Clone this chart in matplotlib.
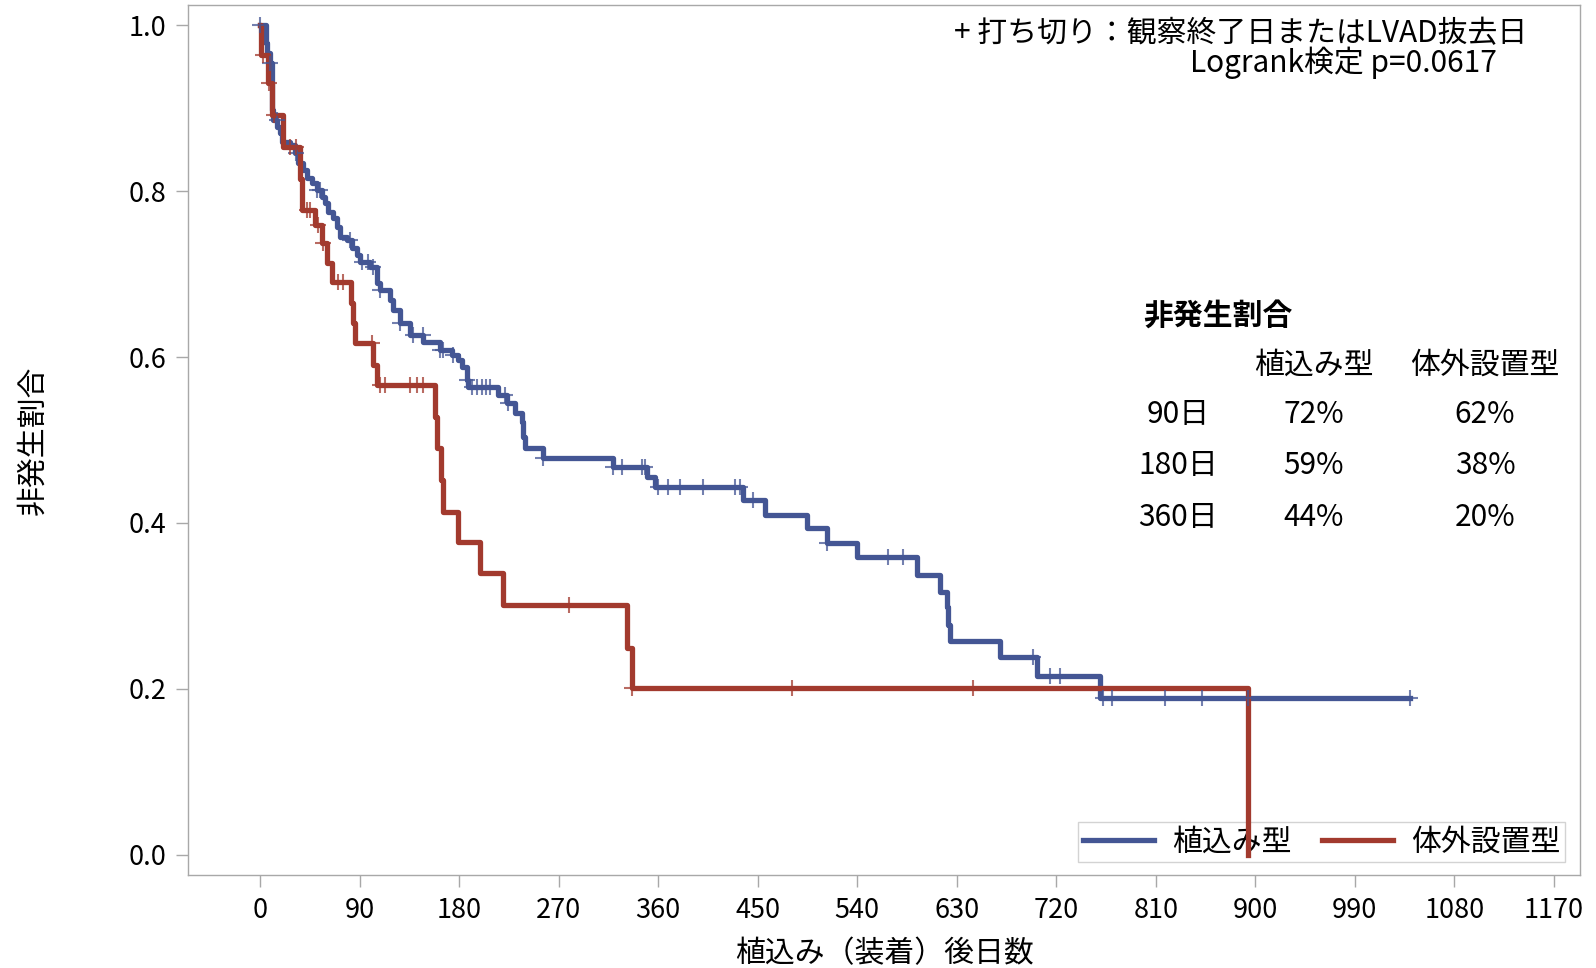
import matplotlib
matplotlib.use('Agg')
import matplotlib.pyplot as plt
import numpy as np

plt.rcParams['font.family'] = ['Noto Sans CJK JP', 'DejaVu Sans']

# 植込み型 : event days and survival after each event
imp_days = [0, 5.5, 6.5, 9, 10.5, 11, 12, 15.4, 18, 20, 27, 31.6, 34.4, 38.9, 42.5, 47, 51.5,
            56, 58.8, 61.5, 66, 69.6, 72.3, 78.7, 83.2, 87.7, 90.4, 99.5, 105.8, 108.5, 117.5,
            120, 126.6, 135.6, 147.4, 162.7, 173.6, 179, 182.6, 187, 188, 215, 223, 230.6, 237,
            237.8, 239.6, 256, 319, 350, 357, 436.7, 456.6, 494.6, 512.7, 539.8, 594, 614.8,
            621, 622, 624, 669, 702.5, 759.5, 1040]
imp_surv = [1.0, 0.978, 0.966, 0.954, 0.925, 0.898, 0.886, 0.877, 0.870, 0.859, 0.855, 0.846,
            0.834, 0.825, 0.816, 0.810, 0.801, 0.793, 0.786, 0.775, 0.767, 0.757, 0.745, 0.741,
            0.731, 0.723, 0.714, 0.708, 0.689, 0.681, 0.669, 0.657, 0.641, 0.627, 0.618, 0.608,
            0.602, 0.596, 0.588, 0.572, 0.564, 0.554, 0.545, 0.533, 0.522, 0.504, 0.490, 0.478,
            0.467, 0.455, 0.443, 0.428, 0.410, 0.394, 0.376, 0.359, 0.337, 0.317, 0.299, 0.277,
            0.258, 0.239, 0.216, 0.189, 0.189]
imp_cens = [0, 9, 15, 33, 51.5, 54, 81, 92, 97.6, 102, 108.5, 126.6, 138, 147, 162.7, 165.5,
            174.5, 187, 191.7, 196, 200.7, 204, 208, 221.5, 224, 256, 319, 327, 345, 348, 360,
            369, 380, 400.5, 429.5, 434, 445.7, 512.7, 568, 581, 699, 714, 723, 762, 770, 818,
            852, 893, 1040]

# 体外設置型
ext_days = [0, 1, 7.5, 10.5, 21, 36.5, 38, 49.7, 56, 60.6, 65, 82, 84, 86, 102, 106, 158, 160,
            164, 165.5, 179, 199, 219.7, 332, 336, 893.3]
ext_surv = [1.0, 0.964, 0.930, 0.892, 0.853, 0.815, 0.777, 0.759, 0.737, 0.713, 0.690, 0.665,
            0.641, 0.617, 0.590, 0.566, 0.528, 0.490, 0.452, 0.413, 0.377, 0.340, 0.301, 0.249,
            0.201, 0.0]
ext_cens = [3, 8, 13, 27, 33, 42.5, 45, 52, 57, 70.5, 75, 101, 108.5, 113, 136, 142, 147.5,
            279, 336.5, 481, 645]

groups = ['植込み型', '体外設置型']
colors = ['#445694', '#A23A2E']

table_rows = ['90日', '180日', '360日']
table_imp = ['72%', '59%', '44%']
table_ext = ['62%', '38%', '20%']

x_ticks = list(range(0, 1171, 90))
y_ticks = [0.0, 0.2, 0.4, 0.6, 0.8, 1.0]

W, H = 1596, 968
fig = plt.figure(figsize=(W / 100, H / 100), dpi=100)
ax = fig.add_axes([188 / W, 1 - 875 / H, (1580 - 188) / W, (875 - 5) / H])


def surv_at(days, surv, t):
    idx = np.searchsorted(days, t, side='right') - 1
    return np.asarray(surv)[idx]


series = [(imp_days, imp_surv, imp_cens), (ext_days, ext_surv, ext_cens)]
for (d, s, c), name, col in zip(series, groups, colors):
    ax.step(d, s, where='post', color=col, lw=3.8, label=name, zorder=3)
    ax.plot(c, surv_at(d, s, c), linestyle='none', marker='+', markersize=12,
            mew=1.5, color=col, alpha=0.75, zorder=4)

ax.set_xlim(-65.1, 1193.5)
ax.set_ylim(-0.0241, 1.0241)
ax.set_xticks(x_ticks)
ax.set_yticks(y_ticks)
ax.set_yticklabels([f'{v:.1f}' for v in y_ticks])

frame_col = '#a8a8a8'
for sp in ax.spines.values():
    sp.set_color(frame_col)
    sp.set_linewidth(1.0)
ax.tick_params(direction='out', length=8.5, width=1, color=frame_col,
               labelsize=19.5, pad=7)

fs = 21.5
fig.text(884 / W, 1 - 954 / H, '植込み（装着）後日数', ha='center', va='center', fontsize=fs)
fig.text(33 / W, 1 - 440 / H, '非発生割合', ha='center', va='center', rotation=90, fontsize=fs)

fig.text(1527 / W, 1 - 34 / H, '+ 打ち切り：観察終了日またはLVAD抜去日', ha='right', va='center', fontsize=fs)
fig.text(1497 / W, 1 - 63 / H, 'Logrank検定 p=0.0617', ha='right', va='center', fontsize=fs)

fig.text(1143 / W, 1 - 316 / H, '非発生割合', ha='left', va='center', fontsize=fs, fontweight='bold')
fig.text(1314 / W, 1 - 365 / H, groups[0], ha='center', va='center', fontsize=fs)
fig.text(1485 / W, 1 - 365 / H, groups[1], ha='center', va='center', fontsize=fs)
for i, (r, a, b) in enumerate(zip(table_rows, table_imp, table_ext)):
    yy = 1 - (415 + 51 * i) / H
    fig.text(1178 / W, yy, r, ha='center', va='center', fontsize=fs)
    fig.text(1314 / W, yy, a, ha='center', va='center', fontsize=fs)
    fig.text(1485 / W, yy, b, ha='center', va='center', fontsize=fs)

leg = ax.legend(loc='lower right', bbox_to_anchor=(1565 / W, 1 - 862 / H),
                bbox_transform=fig.transFigure, ncol=2, fontsize=fs, frameon=True,
                fancybox=False, borderpad=0.15, borderaxespad=0, handlelength=2.4,
                handletextpad=0.6, columnspacing=1.0)
leg.get_frame().set_facecolor('none')
leg.get_frame().set_edgecolor('#c8c8c8')
leg.get_frame().set_linewidth(1.0)
leg.set_zorder(2)

plt.savefig('out.png', dpi=100)
